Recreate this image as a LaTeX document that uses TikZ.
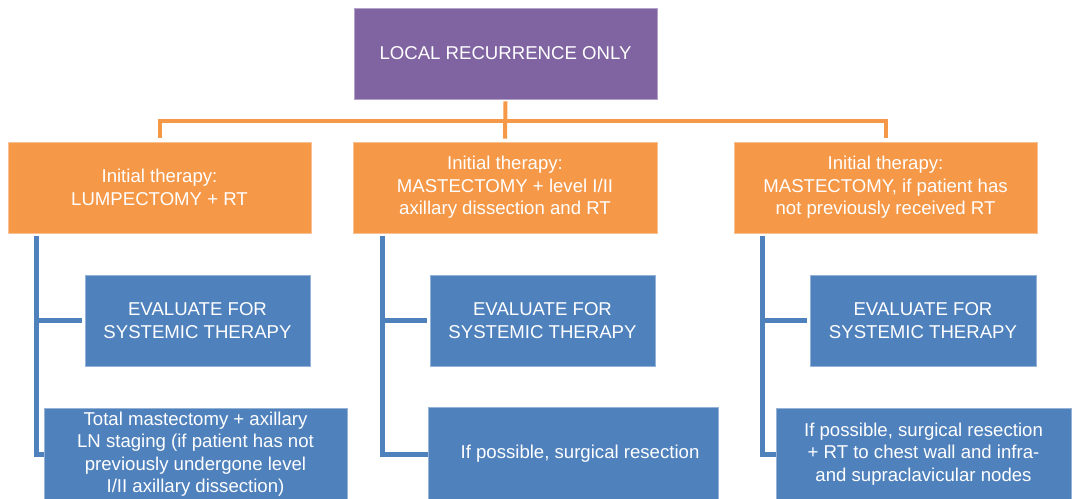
\documentclass[tikz,border=0pt]{standalone}
\usepackage{fontspec}
\setmainfont{Liberation Sans}
\begin{document}
\definecolor{boxpurple}{HTML}{8064A2}
\definecolor{boxorange}{HTML}{F59848}
\definecolor{boxblue}{HTML}{4F81BD}
\begin{tikzpicture}[x=1pt,y=-1pt,
  basebox/.style={rectangle,inner sep=0pt,align=center,text=white,
    font=\fontsize{18.6}{22.5}\selectfont,line width=0.6pt},
  topbox/.style={basebox,fill=boxpurple,draw=boxpurple!60!white},
  initbox/.style={basebox,fill=boxorange,draw=boxorange!60!white},
  actbox/.style={basebox,fill=boxblue,draw=boxblue!60!white},
  oline/.style={draw=boxorange,line width=4pt},
  bline/.style={draw=boxblue,line width=5pt}]
\useasboundingbox (0,0) rectangle (1073,498);
\begin{scope}
\clip (0,0) rectangle (1073,498);

% root
\node[topbox,minimum width=303pt,minimum height=91pt] (top) at (505.5,53.5) {LOCAL RECURRENCE ONLY};

% initial therapy boxes
\node[initbox,minimum width=303pt,minimum height=91pt] (o1) at (159.5,187.5)
  {Initial therapy:\\LUMPECTOMY + RT};
\node[initbox,minimum width=304pt,minimum height=91pt] (o2) at (505,187.5)
  {Initial therapy:\\MASTECTOMY + level I/II\\axillary dissection and RT};
\node[initbox,minimum width=303pt,minimum height=91pt] (o3) at (885.5,187.5)
  {Initial therapy:\\MASTECTOMY, if patient has\\not previously received RT};

% evaluation boxes
\node[actbox,minimum width=225pt,minimum height=91pt] (e1) at (197.5,320.5)
  {EVALUATE FOR\\SYSTEMIC THERAPY};
\node[actbox,minimum width=225pt,minimum height=91pt] (e2) at (542.5,320.5)
  {EVALUATE FOR\\SYSTEMIC THERAPY};
\node[actbox,minimum width=226pt,minimum height=91pt] (e3) at (923,320.5)
  {EVALUATE FOR\\SYSTEMIC THERAPY};

% local treatment boxes
\node[actbox,minimum width=303pt,minimum height=92pt] (b1) at (195.5,454)
  {Total mastectomy + axillary\\LN staging (if patient has not\\previously undergone level\\I/II axillary dissection)};
\node[actbox,minimum width=290pt,minimum height=94pt] (b2) at (573,454)
  {\hspace*{14pt}If possible, surgical resection};
\node[actbox,minimum width=295pt,minimum height=92pt] (b3) at (923.5,454)
  {If possible, surgical resection\\+ RT to chest wall and infra-\\and supraclavicular nodes};

% orange bracket
\coordinate (bar) at (505,121);
\draw[oline] ([yshift=-2pt]top.south) -- ([yshift=3pt]o2.north);
\draw[oline] ([yshift=4pt]o1.north) -- (o1.north |- bar) -- (o3.north |- bar) -- ([yshift=4pt]o3.north);

% blue spines
\coordinate (s1) at (36,236);
\coordinate (s2) at (382.5,236);
\coordinate (s3) at (762,236);
\draw[bline] (s1) |- (b1.west);
\draw[bline] (s2) |- (b2.west);
\draw[bline] (s3) |- (b3.west);
\draw[bline,shorten >=3pt] (s1 |- e1.west) -- (e1.west);
\draw[bline,shorten >=3pt] (s2 |- e2.west) -- (e2.west);
\draw[bline,shorten >=3pt] (s3 |- e3.west) -- (e3.west);
\end{scope}
\end{tikzpicture}
\end{document}
